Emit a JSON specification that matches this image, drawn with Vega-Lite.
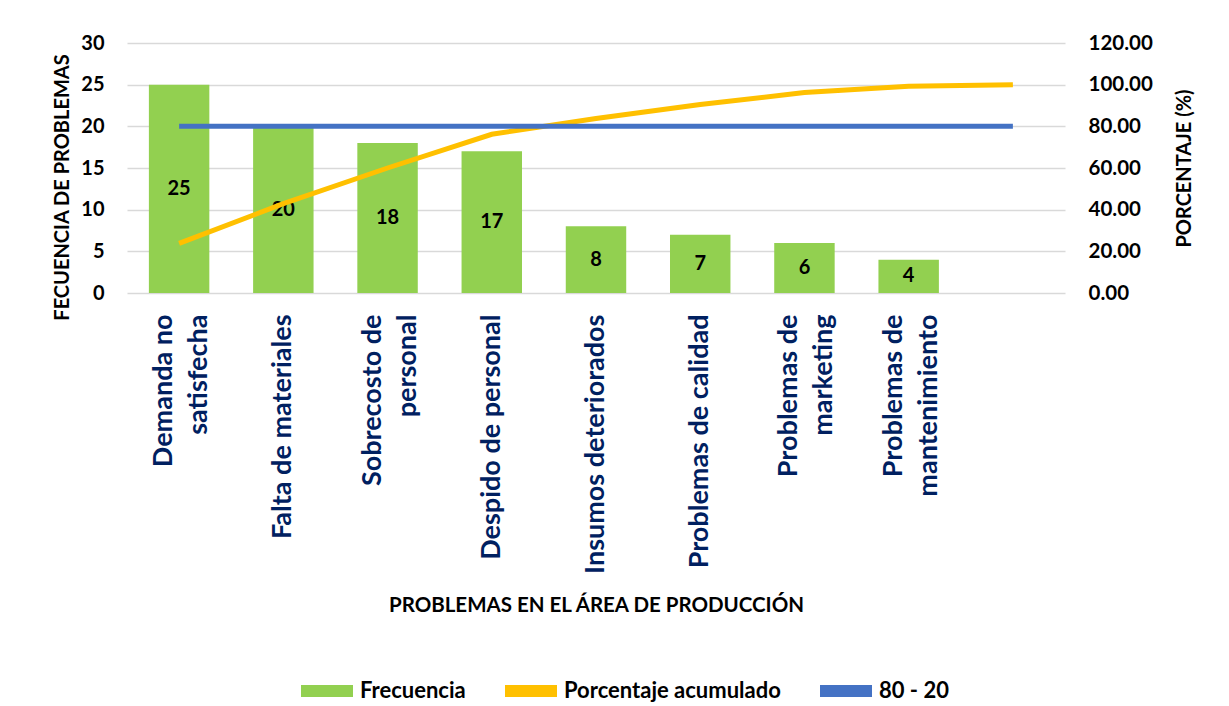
{
  "$schema": "https://vega.github.io/schema/vega-lite/v6.json",
  "autosize": "none",
  "width": 938,
  "height": 250,
  "padding": {"left": 127, "top": 43, "right": 164, "bottom": 413},
  "background": "white",
  "data": {"values": [
    {"k": "Demanda no|satisfecha", "freq": 25, "pct": 23.8, "ref": 80},
    {"k": "Falta de materiales", "freq": 20, "pct": 42.9, "ref": 80},
    {"k": "Sobrecosto de|personal", "freq": 18, "pct": 60.0, "ref": 80},
    {"k": "Despido de personal", "freq": 17, "pct": 76.2, "ref": 80},
    {"k": "Insumos deteriorados", "freq": 8, "pct": 83.8, "ref": 80},
    {"k": "Problemas de calidad", "freq": 7, "pct": 90.5, "ref": 80},
    {"k": "Problemas de|marketing", "freq": 6, "pct": 96.2, "ref": 80},
    {"k": "Problemas de|mantenimiento", "freq": 4, "pct": 99.2, "ref": 80},
    {"k": " ", "freq": null, "pct": 100, "ref": 80}
  ]},
  "encoding": {
    "x": {
      "field": "k", "type": "nominal", "sort": null,
      "scale": {"paddingInner": 0.42, "paddingOuter": 0.21},
      "axis": {
        "title": "PROBLEMAS EN EL ÁREA DE PRODUCCIÓN",
        "titleFont": "Lato", "titleFontSize": 20.5, "titleFontWeight": "bold", "titleColor": "#000000",
        "titleX": 469, "titleY": 312, "titleBaseline": "middle",
        "labelAngle": -90, "labelFont": "Lato", "labelFontSize": 27, "labelFontWeight": "bold",
        "labelColor": "#002060", "labelLineHeight": 35, "labelPadding": 21, "labelLimit": 0,
        "labelOffset": {"condition": {"test": "indexof(datum.value, '|') >= 0", "value": -15}, "value": 0},
        "labelExpr": "split(datum.label, '|')",
        "ticks": false, "domain": false, "grid": false
      }
    }
  },
  "layer": [
    {
      "mark": {"type": "bar", "color": "#92D050"},
      "encoding": {
        "y": {"field": "freq", "type": "quantitative", "scale": {"domain": [0, 30]},
          "axis": {"orient": "left", "values": [0, 5, 10, 15, 20, 25, 30], "title": "FECUENCIA DE PROBLEMAS",
            "titleFont": "Lato", "titleFontSize": 20, "titleFontWeight": "bold", "titleColor": "#000000",
            "titleX": -65, "titleY": 144, "titleAngle": -90, "titleBaseline": "middle",
            "labelFont": "Lato", "labelFontSize": 20, "labelFontWeight": "bold", "labelColor": "#000000",
            "labelPadding": 23, "ticks": false, "domain": false,
            "grid": true, "gridColor": "#D9D9D9", "gridWidth": 1.5}},
        "color": {"datum": "Frecuencia", "type": "nominal",
          "scale": {"domain": ["Frecuencia", "Porcentaje acumulado", "80 - 20"], "range": ["#92D050", "#FFC000", "#4472C4"]},
          "legend": {
            "orient": "none", "direction": "horizontal", "legendX": 189, "legendY": 637,
            "title": null, "symbolType": "M-2.6,-0.6H2.6V0.6H-2.6Z", "symbolSize": 400,
            "symbolStrokeWidth": 0, "symbolOpacity": 1,
            "labelFont": "Lato", "labelFontSize": 22, "labelFontWeight": "bold", "labelColor": "#000000",
            "labelOffset": 22, "columnPadding": 39, "labelLimit": 0,
            "encode": {"symbols": {"update": {"fill": {"scale": "color", "field": "value"}, "stroke": {"value": "transparent"}, "opacity": {"value": 1}}}}
          }}
      }
    },
    {
      "mark": {"type": "text", "font": "Lato", "fontSize": 20, "fontWeight": "bold", "color": "#000000", "baseline": "middle"},
      "encoding": {
        "y": {"field": "freq", "type": "quantitative", "scale": {"domain": [0, 60]}, "axis": null},
        "text": {"field": "freq", "type": "quantitative"}
      }
    },
    {
      "mark": {"type": "line", "color": "#FFC000", "strokeWidth": 5},
      "encoding": {
        "y": {"field": "pct", "type": "quantitative", "scale": {"domain": [0, 120]},
          "axis": {"orient": "right", "values": [0, 20, 40, 60, 80, 100, 120], "format": ".2f", "title": "PORCENTAJE (%)",
            "titleFont": "Lato", "titleFontSize": 20, "titleFontWeight": "bold", "titleColor": "#000000",
            "titleX": 119, "titleY": 125, "titleAngle": -90, "titleBaseline": "middle",
            "labelFont": "Lato", "labelFontSize": 20.5, "labelFontWeight": "bold", "labelColor": "#000000",
            "labelPadding": 23, "ticks": false, "domain": false, "grid": false}},
        "color": {"datum": "Porcentaje acumulado", "type": "nominal"}
      }
    },
    {
      "mark": {"type": "line", "color": "#4472C4", "strokeWidth": 5},
      "encoding": {
        "y": {"field": "ref", "type": "quantitative", "scale": {"domain": [0, 120]}, "axis": null},
        "color": {"datum": "80 - 20", "type": "nominal"}
      }
    }
  ],
  "resolve": {"scale": {"y": "independent"}, "axis": {"y": "independent"}},
  "config": {"view": {"stroke": null}}
}
